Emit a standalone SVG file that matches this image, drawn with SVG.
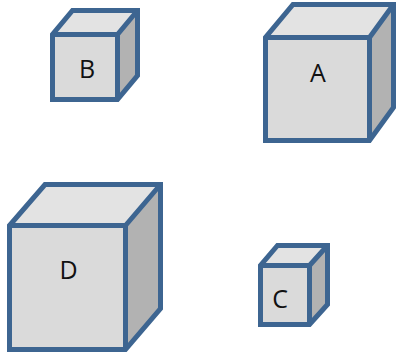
<svg xmlns="http://www.w3.org/2000/svg" width="397" height="355" viewBox="0 0 397 355">
<style>
.edge{stroke:#3d6591;stroke-width:5;stroke-linejoin:miter;fill:none}
.front{fill:#dadada}
.top{fill:#e3e3e3}
.side{fill:#b2b2b2}
.lbl{font-family:"Open Sans","Liberation Sans",sans-serif;font-size:25px;fill:#111;text-anchor:middle}
</style>
<rect width="397" height="355" fill="#ffffff"/>
<g id="cube-B">
<polygon class="top" points="52.5,34.5 72.5,10.5 137.5,10.5 117.5,34.5"/>
<polygon class="side" points="117.5,34.5 137.5,10.5 137.5,75.5 117.5,99.5"/>
<rect class="front" x="52.5" y="34.5" width="65" height="65"/>
<path class="edge" d="M52.5,99.5 V34.5 L72.5,10.5 H137.5 V75.5 L117.5,99.5 Z M52.5,34.5 H117.5 V99.5 M117.5,34.5 L137.5,10.5"/>
<text class="lbl" x="87" y="78">B</text>
</g>
<g id="cube-A">
<polygon class="top" points="265.5,37.5 293,4.5 393.5,4.5 369.5,37.5"/>
<polygon class="side" points="369.5,37.5 393.5,4.5 393.5,107.5 369.5,140.5"/>
<rect class="front" x="265.5" y="37.5" width="104" height="103"/>
<path class="edge" d="M265.5,140.5 V37.5 L293,4.5 H393.5 V107.5 L369.5,140.5 Z M265.5,37.5 H369.5 V140.5 M369.5,37.5 L393.5,4.5"/>
<text class="lbl" x="318" y="82">A</text>
</g>
<g id="cube-D">
<polygon class="top" points="9.5,225.5 45,184.5 160.5,184.5 125.5,225.5"/>
<polygon class="side" points="125.5,225.5 160.5,184.5 160.5,308.5 125.5,349.5"/>
<rect class="front" x="9.5" y="225.5" width="116" height="124"/>
<path class="edge" d="M9.5,349.5 V225.5 L45,184.5 H160.5 V308.5 L125.5,349.5 Z M9.5,225.5 H125.5 V349.5 M125.5,225.5 L160.5,184.5"/>
<text class="lbl" x="68.5" y="279">D</text>
</g>
<g id="cube-C">
<polygon class="top" points="260.5,265.5 277.5,245.5 327.5,245.5 309.5,265.5"/>
<polygon class="side" points="309.5,265.5 327.5,245.5 327.5,304.5 309.5,324.5"/>
<rect class="front" x="260.5" y="265.5" width="49" height="59"/>
<path class="edge" d="M260.5,324.5 V265.5 L277.5,245.5 H327.5 V304.5 L309.5,324.5 Z M260.5,265.5 H309.5 V324.5 M309.5,265.5 L327.5,245.5"/>
<text class="lbl" x="280" y="308">C</text>
</g>
<g id="connectors"></g>
</svg>
